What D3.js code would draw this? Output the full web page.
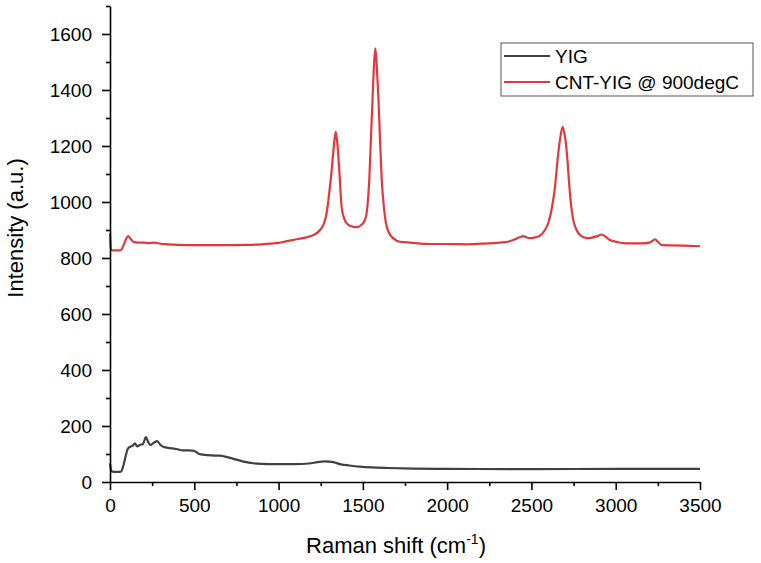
<!DOCTYPE html>
<html>
<head>
<meta charset="utf-8">
<script src="https://cdn.jsdelivr.net/npm/d3@7"></script>
<style>
	body { margin: 0; background: #fff; }
	svg { display: block; font-family: "Liberation Sans", Arial, sans-serif; }
</style>
</head>
<body>
<div id="chart"></div>
<script>
// Raman shift (cm-1) / intensity pairs
const yigShift = [0, 8, 15, 40, 65, 80, 92, 105, 120, 135, 148, 162, 178, 195, 213, 225, 240, 260, 280, 300, 320, 345, 370, 400, 430, 460, 490, 510, 530, 560, 600, 650, 700, 750, 800, 850, 900, 1000, 1100, 1180, 1230, 1270, 1300, 1330, 1370, 1420, 1480, 1550, 1650, 1800, 2000, 2500, 3000, 3500]
const yigValue = [67, 40, 37, 36, 37, 60, 90, 118, 126, 130, 138, 127, 133, 135, 160, 145, 132, 140, 146, 132, 125, 122, 120, 117, 113, 113, 112, 108, 100, 97, 95, 94, 88, 80, 72, 67, 65, 64, 64, 66, 71, 74, 73, 70, 63, 59, 55, 52, 50, 48, 47, 46, 47, 47]

const cntShift = [0, 5, 10, 40, 65, 80, 95, 108, 120, 138, 170, 200, 230, 260, 300, 340, 400, 500, 600, 700, 800, 900, 950, 1000, 1050, 1100, 1150, 1200, 1246, 1270, 1285, 1300, 1315, 1328, 1339, 1350, 1360, 1374, 1390, 1414, 1440, 1463, 1490, 1513, 1528, 1538, 1548, 1558, 1566, 1574, 1583, 1592, 1602, 1612, 1625, 1637, 1655, 1681, 1720, 1780, 1900, 2000, 2116, 2200, 2313, 2360, 2392, 2430, 2452, 2475, 2491, 2531, 2551, 2580, 2600, 2620, 2640, 2655, 2669, 2685, 2697, 2705, 2715, 2725, 2737, 2748, 2768, 2788, 2828, 2860, 2890, 2917, 2940, 2966, 3000, 3065, 3150, 3200, 3220, 3233, 3250, 3273, 3330, 3401, 3500]
const cntValue = [888, 835, 828, 827, 828, 845, 868, 878, 870, 858, 855, 855, 853, 855, 851, 849, 847, 846, 846, 846, 847, 849, 851, 854, 860, 866, 872, 880, 900, 925, 960, 1030, 1114, 1200, 1251, 1200, 1114, 983, 940, 918, 912, 910, 918, 936, 990, 1078, 1230, 1376, 1490, 1549, 1480, 1376, 1220, 1078, 980, 924, 890, 870, 858, 855, 850, 850, 849, 851, 855, 858, 864, 874, 878, 873, 871, 875, 880, 900, 925, 975, 1055, 1150, 1221, 1268, 1240, 1207, 1140, 1055, 980, 936, 900, 882, 871, 873, 878, 884, 876, 864, 858, 852, 852, 855, 862, 867, 858, 846, 845, 844, 842]

const seriesNames = ['YIG', 'CNT-YIG @ 900degC']
const seriesColors = ['#404040', '#e0383c']

const xTicks = [0, 500, 1000, 1500, 2000, 2500, 3000, 3500]
const yTicks = [0, 200, 400, 600, 800, 1000, 1200, 1400, 1600]

const width = 761;
const height = 563;
const margin = ({ top: 6, right: 61, bottom: 81, left: 110 })

const x = d3.scaleLinear()
	.domain([0, 3500])
	.range([margin.left, width - margin.right])

const y = d3.scaleLinear()
	.domain([0, 1700])
	.range([height - margin.bottom, margin.top])

const svg = d3.select('#chart')
	.append('svg')
	.attr('width', width)
	.attr('height', height)

const line = d3.line()
	.x(d => x(d[0]))
	.y(d => y(d[1]))
	.curve(d3.curveMonotoneX)

const series = [
	d3.zip(yigShift, yigValue),
	d3.zip(cntShift, cntValue)
]

svg.append('g')
	.selectAll('path')
	.data(series)
	.join('path')
	.attr('fill', 'none')
	.attr('stroke', (d, i) => seriesColors[i])
	.attr('stroke-width', 2.2)
	.attr('stroke-linejoin', 'round')
	.attr('d', line)

// 次刻度
const xMinor = d3.range(0, 3501, 250).filter(v => v % 500)
const yMinor = d3.range(0, 1701, 100).filter(v => v % 200)

svg.append('g')
	.attr('transform', `translate(0,${y(0)})`)
	.call(d3.axisBottom(x).tickValues(xMinor).tickSize(4).tickFormat(''))
	.call(g => g.select('.domain').remove())

svg.append('g')
	.attr('transform', `translate(${x(0)},0)`)
	.call(d3.axisLeft(y).tickValues(yMinor).tickSize(4).tickFormat(''))
	.call(g => g.select('.domain').remove())

// 主刻度
svg.append('g')
	.attr('class', 'x-axis')
	.attr('transform', `translate(0,${y(0)})`)
	.call(d3.axisBottom(x).tickValues(xTicks).tickFormat(d3.format('d')).tickSize(8).tickPadding(9).tickSizeOuter(0))
	.call(g => g.selectAll('text').attr('font-size', 19).attr('fill', '#000').attr('font-family', null))

svg.append('g')
	.attr('class', 'y-axis')
	.attr('transform', `translate(${x(0)},0)`)
	.call(d3.axisLeft(y).tickValues(yTicks).tickFormat(d3.format('d')).tickSize(8).tickPadding(10).tickSizeOuter(0))
	.call(g => g.selectAll('text').attr('font-size', 19).attr('fill', '#000').attr('font-family', null))

svg.selectAll('.domain, .tick line')
	.attr('stroke', '#000')
	.attr('stroke-width', 1.6)

// 坐标轴标题
const xTitle = svg.append('text')
	.attr('x', (x(0) + x(3500)) / 2 - 9)
	.attr('y', 553)
	.attr('text-anchor', 'middle')
	.attr('font-size', 22)
	.attr('fill', '#000')
xTitle.append('tspan').text('Raman shift (cm')
xTitle.append('tspan').attr('font-size', 14).attr('dy', -9).text('-1')
xTitle.append('tspan').attr('dy', 9).text(')')

svg.append('text')
	.attr('transform', `translate(23,${(y(0) + y(1700)) / 2 - 16}) rotate(-90)`)
	.attr('text-anchor', 'middle')
	.attr('font-size', 22)
	.attr('fill', '#000')
	.text('Intensity (a.u.)')

// 图例
const legend = svg.append('g')
	.attr('transform', 'translate(501,43)')

legend.append('rect')
	.attr('width', 252)
	.attr('height', 53)
	.attr('fill', '#fff')
	.attr('stroke', '#555')
	.attr('stroke-width', 1)

const item = legend.selectAll('g')
	.data(seriesNames)
	.join('g')
	.attr('transform', (d, i) => `translate(0,${13 + i * 26})`)

item.append('line')
	.attr('x1', 3)
	.attr('x2', 49)
	.attr('stroke', (d, i) => seriesColors[i])
	.attr('stroke-width', 2)

item.append('text')
	.attr('x', 54)
	.attr('dy', '0.36em')
	.attr('font-size', 19)
	.attr('fill', '#000')
	.text(d => d)
</script>
</body>
</html>
